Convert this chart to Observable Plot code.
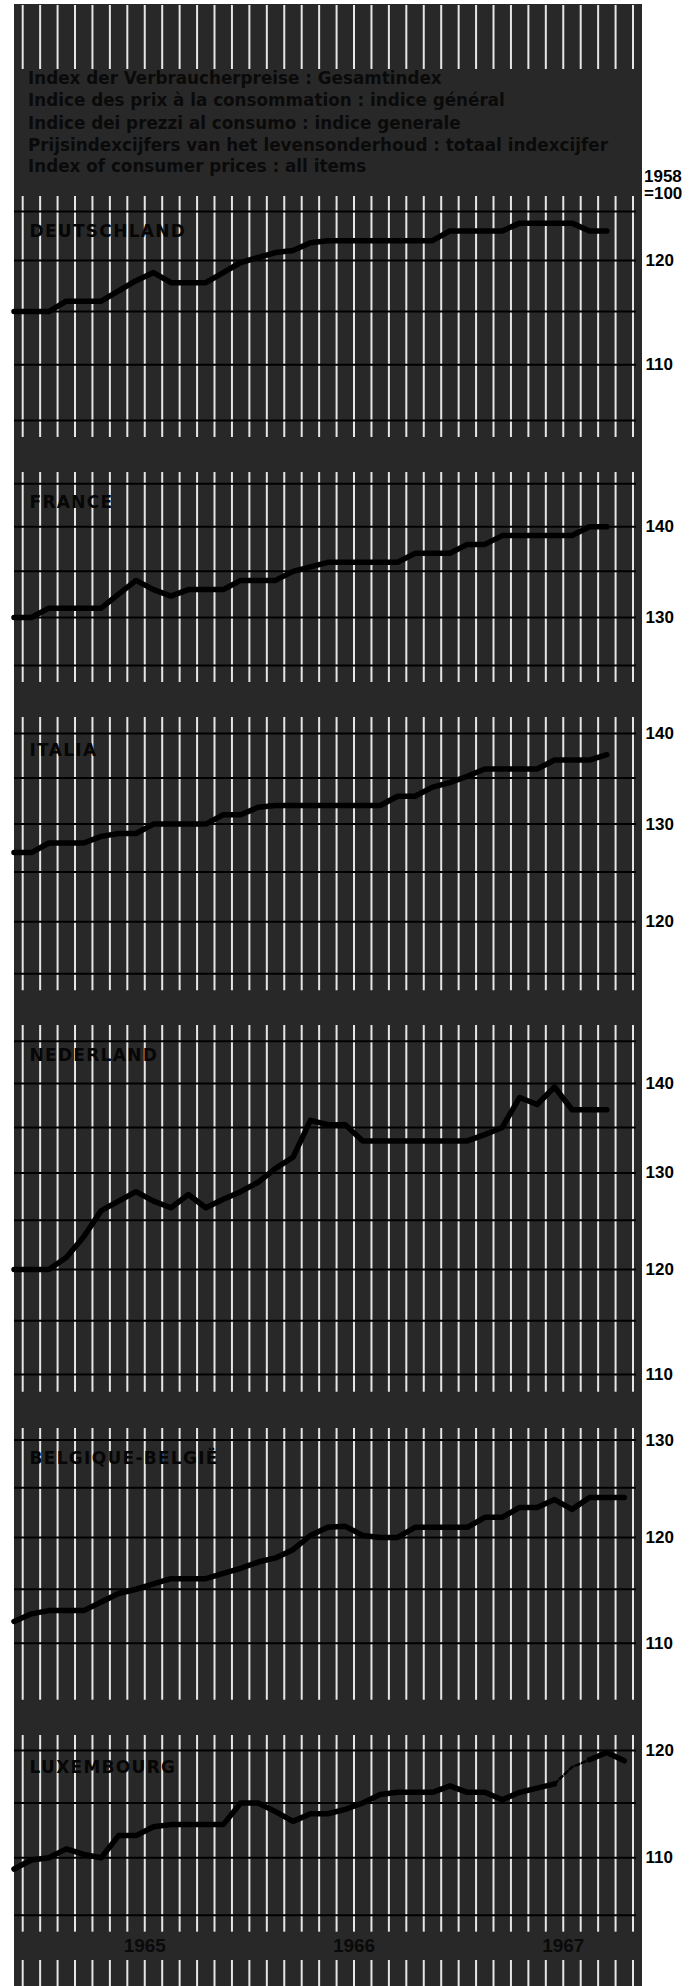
<!DOCTYPE html>
<html>
<head>
<meta charset="utf-8">
<script src="https://cdn.jsdelivr.net/npm/d3@7"></script>
<script src="https://cdn.jsdelivr.net/npm/@observablehq/plot@0.6"></script>
<style>
  body { margin: 0; background: #fff; }
  #page { position: relative; width: 696px; height: 1986px; overflow: hidden; }
  #bg { position: absolute; left: 14px; top: 4px; width: 628px; height: 1982px; background: #282828; }
  .slot { position: absolute; left: 0; }
  .slot svg { display: block; }
  .hdr { position: absolute; left: 28px; font: bold 16.8px "DejaVu Sans", sans-serif; color: #0a0a0a; white-space: nowrap; line-height: 18px; }
  .base { position: absolute; left: 644px; font-family: "Liberation Sans", Arial, sans-serif; font-weight: bold; font-size: 17px; color: #000; line-height: 17px; height: 17px; }
</style>
</head>
<body>
<div id="page"><div id="bg"></div></div>
<script>
// ---------- data ----------
const titleLines = [
  "Index der Verbraucherpreise : Gesamtindex",
  "Indice des prix à la consommation : indice général",
  "Indice dei prezzi al consumo : indice generale",
  "Prijsindexcijfers van het levensonderhoud : totaal indexcijfer",
  "Index of consumer prices : all items"
];
const baseLabel = ["1958", "=100"];
const years = ["1965", "1966", "1967"];
const months = [
  "1964-11","1964-12",
  "1965-01","1965-02","1965-03","1965-04","1965-05","1965-06","1965-07","1965-08","1965-09","1965-10","1965-11","1965-12",
  "1966-01","1966-02","1966-03","1966-04","1966-05","1966-06","1966-07","1966-08","1966-09","1966-10","1966-11","1966-12",
  "1967-01","1967-02","1967-03","1967-04","1967-05","1967-06","1967-07","1967-08","1967-09","1967-10"
];
const countries = ["DEUTSCHLAND", "FRANCE", "ITALIA", "NEDERLAND", "BELGIQUE-BELGIË", "LUXEMBOURG"];

const deutschland = [115,115,115,116,116,116,117,118,118.8,117.8,117.8,117.8,118.8,119.8,120.3,120.8,121,121.8,122,122,122,122,122,122,122,123,123,123,123,123.8,123.8,123.8,123.8,123,123];
const france      = [130,130,131,131,131,131,132.5,134,133,132.3,133,133,133,134,134,134,135,135.5,136,136,136,136,136,137,137,137,138,138,139,139,139,139,139,140,140];
const italia      = [127,127,128,128,128,128.7,129,129,130,130,130,130,131,131,131.8,132,132,132,132,132,132,132,133,133,134,134.5,135.2,136,136,136,136,137,137,137,137.6];
const nederland   = [120,120,120,121.2,123.3,126,127,128,127,126.3,127.7,126.3,127.2,128,129,130.5,131.7,135.8,135.3,135.3,133.5,133.5,133.5,133.5,133.5,133.5,133.5,134.2,135,138.4,137.6,139.6,137,137,137];
const belgique    = [112,112.7,113,113,113,113.8,114.6,115,115.5,116,116,116,116.5,117,117.6,118,118.8,120.2,121,121.1,120.2,120,120,121,121,121,121,122,122,123,123,123.8,122.8,124,124,124];
const luxembourg  = [109,109.8,110,110.8,110.3,110,112,112,112.8,113,113,113,113,115,115,114.2,113.3,114,114,114.4,115,115.8,116,116,116,116.6,116,116,115.3,116,116.4,116.8,118.4,119.1,119.8,119];
const luxProvisional = ["1967-06", "1967-08"];

const ticksDE = [110, 120], gridDE = [105, 110, 115, 120, 125];
const ticksFR = [130, 140], gridFR = [125, 130, 135, 140, 145];
const ticksIT = [120, 130, 140], gridIT = [115, 120, 125, 130, 135, 140];
const ticksNL = [110, 120, 130, 140], gridNL = [110, 115, 120, 125, 130, 135, 140, 145];
const ticksBE = [110, 120, 130], gridBE = [110, 115, 120, 125, 130];
const ticksLU = [110, 120], gridLU = [105, 110, 115, 120];

// ---------- layout ----------
// month boundary index: Dec 1964 = 0, Jan 1965 = 1 ...
const monthPos = s => { const [y, m] = s.split("-").map(Number); return (y - 1965) * 12 + m + 0.5; };
const yearCenter = y => (Number(y) - 1965) * 12 + 7;
const monthBoundaries = d3.range(0, 36);
const X = {type: "linear", domain: [-0.47, 35.2], axis: null};
const W = 696, ML = 14, MR = 60;
const LABEL_FONT = "'Liberation Sans', Arial, sans-serif";

const panels = [
  {name: countries[0], values: deutschland, ticks: ticksDE, grid: gridDE, top: 196,    bottom: 437,    domain: [103.53, 126.58], labelDy: 28},
  {name: countries[1], values: france,      ticks: ticksFR, grid: gridFR, top: 471.7,  bottom: 681.7,  domain: [123.28, 146.35], labelDy: 23},
  {name: countries[2], values: italia,      ticks: ticksIT, grid: gridIT, top: 716.7,  bottom: 990,    domain: [113.41, 141.86], labelDy: 26},
  {name: countries[3], values: nederland,   ticks: ticksNL, grid: gridNL, top: 1025,   bottom: 1391.7, domain: [108.39, 146.91], labelDy: 23},
  {name: countries[4], values: belgique,    ticks: ticksBE, grid: gridBE, top: 1428.3, bottom: 1700,   domain: [104.98, 131.24], labelDy: 23},
  {name: countries[5], values: luxembourg,  ticks: ticksLU, grid: gridLU, top: 1735,   bottom: 1931.7, domain: [103.56, 121.47], labelDy: 25, years: true, dashed: luxProvisional, extraBottom: 28}
];

const page = document.getElementById("page");
function place(el, top) {
  const d = document.createElement("div");
  d.className = "slot";
  d.style.top = top + "px";
  d.appendChild(el);
  page.appendChild(d);
}

// top strip and bottom strip of month lines
function strip(top, height) {
  place(Plot.plot({
    width: W, height, marginLeft: ML, marginRight: MR, marginTop: 0, marginBottom: 0,
    style: {background: "transparent"},
    x: X,
    marks: [Plot.ruleX(monthBoundaries, {x: d => d, stroke: "#e6e6e6", strokeWidth: 2})]
  }), top);
}
strip(5, 64);
strip(1960, 26);

const lineOpts = {x: "x", y: "v", stroke: "#000", strokeWidth: 5.5};

for (const p of panels) {
  const pts = p.values.map((v, i) => ({x: monthPos(months[i]), v}));
  const marks = [
    Plot.ruleX(monthBoundaries, {x: d => d, stroke: "#e6e6e6", strokeWidth: 2}),
    Plot.ruleY(p.grid, {y: d => d, stroke: "#000", strokeWidth: 2}),
    Plot.axisY(p.ticks, {anchor: "right", tickSize: 0, tickPadding: 9, fontSize: 17, fontWeight: "bold", fill: "#000", label: null, tickFormat: d => String(d)})
  ];
  if (p.dashed) {
    const [a, b] = p.dashed.map(monthPos);
    marks.push(Plot.line(pts.filter(d => d.x <= a), lineOpts));
    marks.push(Plot.line(pts.filter(d => d.x >= a && d.x <= b), {x: "x", y: "v", stroke: "#000", strokeWidth: 2.5, strokeDasharray: "4,3"}));
    marks.push(Plot.line(pts.filter(d => d.x >= b), lineOpts));
  } else {
    marks.push(Plot.line(pts, lineOpts));
  }
  marks.push(Plot.text([p.name], {text: d => d, frameAnchor: "top-left", dx: 15, dy: p.labelDy, fontSize: 17, fontWeight: "bold", fontFamily: "DejaVu Sans", fill: "#060606"}));
  if (p.years) {
    marks.push(Plot.text(years, {x: d => yearCenter(d), text: d => d, frameAnchor: "bottom", lineAnchor: "middle", dy: 14, fontSize: 19, fontWeight: "bold", fontFamily: LABEL_FONT, fill: "#0a0a0a"}));
  }
  const eb = p.extraBottom || 0;
  const chart = Plot.plot({
    width: W, height: p.bottom - p.top + eb,
    marginLeft: ML, marginRight: MR, marginTop: 0, marginBottom: eb,
    style: {background: "transparent", overflow: "visible", fontFamily: LABEL_FONT},
    x: X,
    y: {type: "log", domain: p.domain, label: null},
    marks
  });
  chart.querySelectorAll("text").forEach(t => {
    if (t.textContent === p.name) t.setAttribute("letter-spacing", "1.3");
  });
  place(chart, p.top);
}

// header text
const centers = [79, 101, 124, 146, 167];
titleLines.forEach((t, i) => {
  const d = document.createElement("div");
  d.className = "hdr";
  d.style.top = (centers[i] - 10) + "px";
  d.textContent = t;
  page.appendChild(d);
});
baseLabel.forEach((t, i) => {
  const d = document.createElement("div");
  d.className = "base";
  d.style.top = (168 + i * 17) + "px";
  d.textContent = t;
  page.appendChild(d);
});
</script>
</body>
</html>
